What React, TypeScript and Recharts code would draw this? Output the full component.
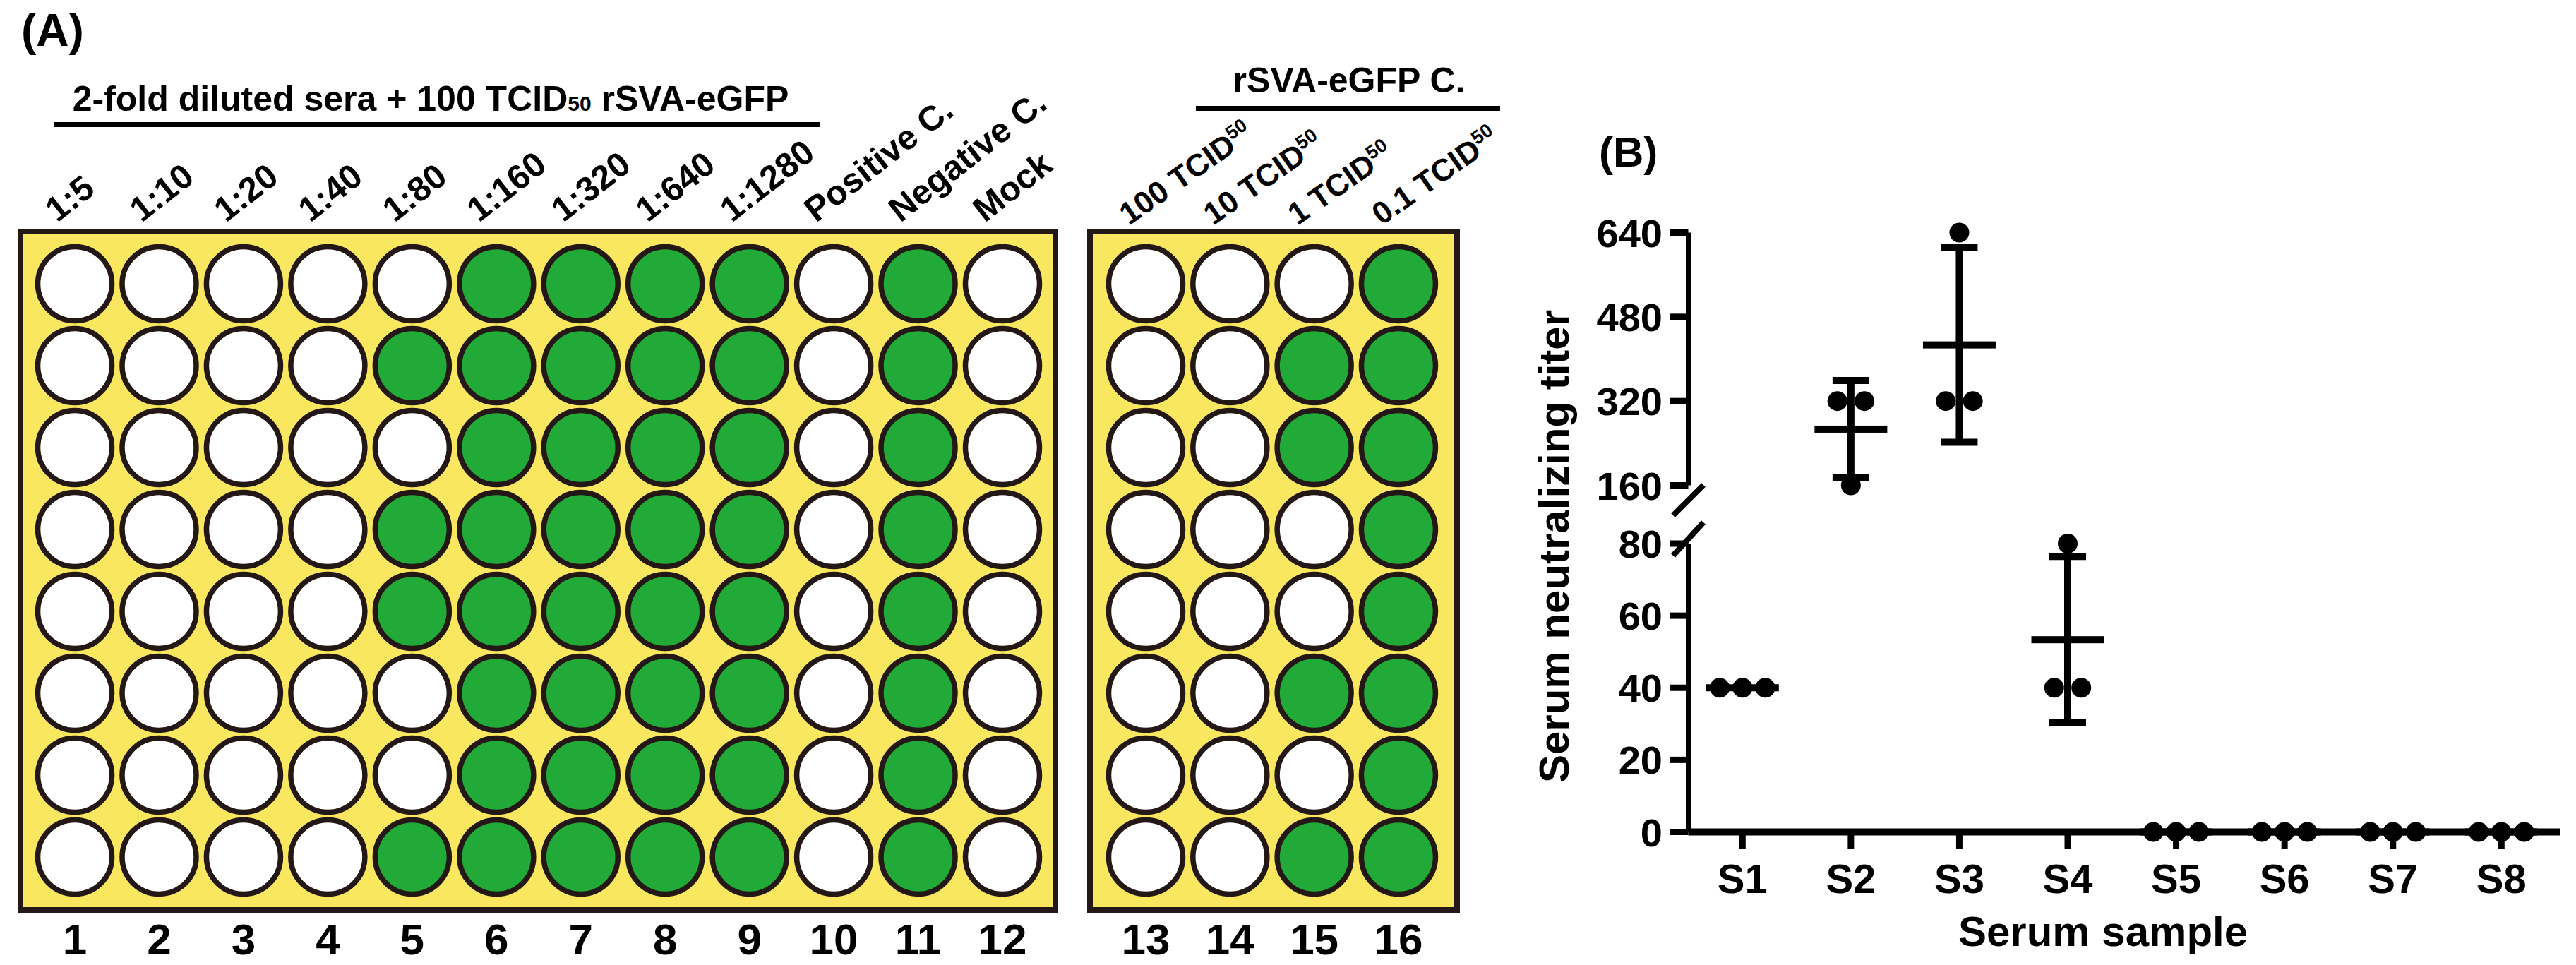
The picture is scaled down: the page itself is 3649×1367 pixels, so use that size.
import React from 'react';
import { ScatterChart, Scatter, XAxis, YAxis, ReferenceArea, ErrorBar, Customized } from 'recharts';

const FONT = '"Liberation Sans", Arial, Helvetica, sans-serif';
const INK = '#231815';
const YELLOW = '#F8E75F';
const GREEN = '#21AA38';
const BLACK = '#000000';

// ---------- Panel A data ----------
const plateRows = [1, 2, 3, 4, 5, 6, 7, 8];
const leftColumns = [1, 2, 3, 4, 5, 6, 7, 8, 9, 10, 11, 12];
const rightColumns = [13, 14, 15, 16];
const dilutionLabels = ['1:5', '1:10', '1:20', '1:40', '1:80', '1:160', '1:320', '1:640', '1:1280', 'Positive C.', 'Negative C.', 'Mock'];
const controlDoses = ['100', '10', '1', '0.1'];
// 1 = green (eGFP fluorescence), 0 = no fluorescence
const leftPlate = [
  [0, 0, 0, 0, 0, 1, 1, 1, 1, 0, 1, 0],
  [0, 0, 0, 0, 1, 1, 1, 1, 1, 0, 1, 0],
  [0, 0, 0, 0, 0, 1, 1, 1, 1, 0, 1, 0],
  [0, 0, 0, 0, 1, 1, 1, 1, 1, 0, 1, 0],
  [0, 0, 0, 0, 1, 1, 1, 1, 1, 0, 1, 0],
  [0, 0, 0, 0, 0, 1, 1, 1, 1, 0, 1, 0],
  [0, 0, 0, 0, 0, 1, 1, 1, 1, 0, 1, 0],
  [0, 0, 0, 0, 1, 1, 1, 1, 1, 0, 1, 0],
];
const rightPlate = [
  [0, 0, 0, 1],
  [0, 0, 1, 1],
  [0, 0, 1, 1],
  [0, 0, 0, 1],
  [0, 0, 0, 1],
  [0, 0, 1, 1],
  [0, 0, 0, 1],
  [0, 0, 1, 1],
];

// ---------- Panel B data ----------
const sampleLabels = ['S1', 'S2', 'S3', 'S4', 'S5', 'S6', 'S7', 'S8'];
const sampleIndex = [1, 2, 3, 4, 5, 6, 7, 8];
const titerS1 = [40, 40, 40];
const titerS2 = [160, 320, 320];
const titerS3 = [320, 320, 640];
const titerS4 = [40, 40, 80];
const titerS5 = [0, 0, 0];
const titerS6 = [0, 0, 0];
const titerS7 = [0, 0, 0];
const titerS8 = [0, 0, 0];
const titers = [titerS1, titerS2, titerS3, titerS4, titerS5, titerS6, titerS7, titerS8];
const upperTicks = [160, 320, 480, 640];
const lowerTicks = [0, 20, 40, 60, 80];

// ---------- derived ----------
const buildWells = (plate: number[][], cols: number[]) =>
  plate.flatMap((row, r) => row.map((v, c) => ({ col: cols[c], row: plateRows[r], positive: v === 1 })));
const leftWells = buildWells(leftPlate, leftColumns);
const rightWells = buildWells(rightPlate, rightColumns);

const samplePoints = titers.flatMap((vals, i) => {
  const counts = new Map<number, number>();
  vals.forEach((v) => counts.set(v, (counts.get(v) || 0) + 1));
  const seen = new Map<number, number>();
  return vals.map((v) => {
    const n = counts.get(v) as number;
    const k = seen.get(v) || 0;
    seen.set(v, k + 1);
    const step = n === 2 ? 0.25 : 0.21;
    return { x: sampleIndex[i] + (k - (n - 1) / 2) * step, y: v };
  });
});
const sampleStats = titers.map((vals, i) => {
  const m = vals.reduce((a, b) => a + b, 0) / vals.length;
  const sd = Math.sqrt(vals.reduce((a, b) => a + (b - m) * (b - m), 0) / (vals.length - 1));
  return { x: sampleIndex[i], y: m, sd };
});

const LEFT_X: [number, number] = [0.355, 12.628];
const RIGHT_X: [number, number] = [12.338, 16.696];
const ROW_Y: [number, number] = [0.362, 8.647];
const B_X: [number, number] = [0.5, 8.545];

const txt = { fontFamily: FONT, fontWeight: 700, fill: BLACK } as const;

const Well = (props: any) => {
  const { cx, cy, payload } = props;
  return <circle cx={cx} cy={cy} r={52.5} fill={payload.positive ? GREEN : '#FFFFFF'} stroke={INK} strokeWidth={7.5} />;
};
const Nothing = () => <g />;

const NumberTick = (props: any) => {
  const { x, y, payload } = props;
  return (
    <text x={x} y={y + 63} textAnchor="middle" fontSize={62} {...txt}>
      {payload.value}
    </text>
  );
};
const DilutionTick = (props: any) => {
  const { x, y, payload } = props;
  const label = dilutionLabels[leftColumns.indexOf(payload.value)];
  return (
    <text transform={`translate(${x - 25},${y - 12}) rotate(-38)`} fontSize={49} {...txt}>
      {label}
    </text>
  );
};
const DoseTick = (props: any) => {
  const { x, y, payload } = props;
  const dose = controlDoses[rightColumns.indexOf(payload.value)];
  return (
    <text transform={`translate(${x - 24},${y - 8}) rotate(-35)`} fontSize={44} {...txt}>
      <tspan>{dose} TCID</tspan>
      <tspan dy={-16} fontSize={27}>50</tspan>
    </text>
  );
};
const TiterTick = (props: any) => {
  const { x, y, payload } = props;
  return (
    <text x={x} y={y} dy={20} textAnchor="end" fontSize={56} {...txt}>
      {payload.value}
    </text>
  );
};
const SampleTick = (props: any) => {
  const { x, y, payload } = props;
  return (
    <text x={x} y={y + 62} textAnchor="middle" fontSize={58} {...txt}>
      {sampleLabels[sampleIndex.indexOf(payload.value)]}
    </text>
  );
};
const Dot = (props: any) => {
  const { cx, cy } = props;
  return <circle cx={cx} cy={cy} r={14} fill={BLACK} />;
};
const MeanLine = (props: any) => {
  const { cx, cy } = props;
  return <rect x={cx - 51.5} y={cy - 5} width={103} height={10} fill={BLACK} />;
};

const LeftAnnotations = () => (
  <g>
    <text x={30} y={65} fontSize={64} {...txt}>(A)</text>
    <text x={610} y={157} textAnchor="middle" fontSize={50} {...txt}>
      <tspan>2-fold diluted sera + 100 TCID</tspan>
      <tspan fontSize={30}>50</tspan>
      <tspan> rSVA-eGFP</tspan>
    </text>
    <line x1={77} x2={1161} y1={176.5} y2={176.5} stroke={BLACK} strokeWidth={7} />
  </g>
);
const RightAnnotations = () => (
  <g>
    <text x={411} y={131} textAnchor="middle" fontSize={50} {...txt}>rSVA-eGFP C.</text>
    <line x1={194} x2={625} y1={153.5} y2={153.5} stroke={BLACK} strokeWidth={7} />
  </g>
);
const BAnnotations = () => (
  <g>
    <text x={125} y={236} fontSize={60} {...txt}>(B)</text>
    <text transform="translate(82,774) rotate(-90)" textAnchor="middle" fontSize={60} {...txt}>
      Serum neutralizing titer
    </text>
    <text x={839} y={1340} textAnchor="middle" fontSize={60} {...txt}>Serum sample</text>
    <line x1={273} y1={687} x2={230} y2={730} stroke={BLACK} strokeWidth={8} />
    <line x1={273} y1={740} x2={230} y2={787} stroke={BLACK} strokeWidth={8} />
  </g>
);

const Plate = ({ wells, xDomain, cols, tick, annotations, width, margin }: any) => (
  <ScatterChart width={width} height={1367} margin={margin}>
    <XAxis xAxisId="bottom" orientation="bottom" type="number" dataKey="col" domain={xDomain} ticks={cols}
      height={70} tickSize={0} tickMargin={0} tickLine={false} axisLine={false} tick={<NumberTick />} interval={0} />
    <XAxis xAxisId="top" orientation="top" type="number" dataKey="col" domain={xDomain} ticks={cols}
      height={300} tickSize={0} tickMargin={0} tickLine={false} axisLine={false} tick={tick} interval={0} />
    <YAxis type="number" dataKey="row" domain={ROW_Y} reversed hide width={0} />
    <ReferenceArea xAxisId="bottom" x1={xDomain[0]} x2={xDomain[1]} y1={ROW_Y[0]} y2={ROW_Y[1]}
      fill={YELLOW} fillOpacity={1} stroke={INK} strokeWidth={8} />
    <Scatter xAxisId="bottom" data={wells} shape={<Well />} isAnimationActive={false} />
    <Scatter xAxisId="top" data={wells.filter((w: any) => w.row === 1)} shape={<Nothing />} isAnimationActive={false} />
    <Customized component={annotations} />
  </ScatterChart>
);

export default function App() {
  const upperPts = samplePoints.filter((p) => p.y >= 160);
  const lowerPts = samplePoints.filter((p) => p.y <= 80);
  const upperStats = sampleStats.filter((s) => s.y >= 160);
  const lowerStats = sampleStats.filter((s) => s.y <= 80);
  return (
    <div style={{ position: 'absolute', left: 0, top: 0, width: 3649, height: 1367, background: '#FFFFFF', fontFamily: FONT, overflow: 'hidden' }}>
      <div style={{ position: 'absolute', left: 0, top: 0 }}>
        <Plate wells={leftWells} xDomain={LEFT_X} cols={leftColumns} tick={<DilutionTick />} annotations={LeftAnnotations}
          width={1530} margin={{ top: 28, right: 35, bottom: 8, left: 29 }} />
      </div>
      <div style={{ position: 'absolute', left: 1500, top: 0 }}>
        <Plate wells={rightWells} xDomain={RIGHT_X} cols={rightColumns} tick={<DoseTick />} annotations={RightAnnotations}
          width={660} margin={{ top: 28, right: 96, bottom: 8, left: 44 }} />
      </div>
      <div style={{ position: 'absolute', left: 2140, top: 0 }}>
        <ScatterChart width={1509} height={1367} margin={{ top: 329.5, right: 22, bottom: 679.5, left: 51.5 }}>
          <XAxis type="number" dataKey="x" domain={B_X} hide />
          <YAxis type="number" dataKey="y" domain={[160, 640]} ticks={upperTicks} width={200} interval={0}
            tickSize={25.5} tickMargin={11} tick={<TiterTick />}
            axisLine={{ stroke: BLACK, strokeWidth: 7 }} tickLine={{ stroke: BLACK, strokeWidth: 9 }} />
          <Scatter data={upperStats} shape={<MeanLine />} isAnimationActive={false}>
            <ErrorBar dataKey="sd" direction="y" width={26} strokeWidth={10} stroke={BLACK} isAnimationActive={false} />
          </Scatter>
          <Scatter data={upperPts} shape={<Dot />} isAnimationActive={false} />
        </ScatterChart>
      </div>
      <div style={{ position: 'absolute', left: 2140, top: 0 }}>
        <ScatterChart width={1509} height={1367} margin={{ top: 770, right: 22, bottom: 0, left: 51.5 }}>
          <XAxis type="number" dataKey="x" domain={B_X} ticks={sampleIndex} interval={0} height={188.5}
            tickSize={24.5} tickMargin={0} tick={<SampleTick />}
            axisLine={{ stroke: BLACK, strokeWidth: 10 }} tickLine={{ stroke: BLACK, strokeWidth: 9 }} />
          <YAxis type="number" dataKey="y" domain={[0, 80]} ticks={lowerTicks} width={200} interval={0}
            tickSize={25.5} tickMargin={11} tick={<TiterTick />}
            axisLine={{ stroke: BLACK, strokeWidth: 7 }} tickLine={{ stroke: BLACK, strokeWidth: 9 }} />
          <Scatter data={lowerStats} shape={<MeanLine />} isAnimationActive={false}>
            <ErrorBar dataKey="sd" direction="y" width={26} strokeWidth={10} stroke={BLACK} isAnimationActive={false} />
          </Scatter>
          <Scatter data={lowerPts} shape={<Dot />} isAnimationActive={false} />
          <Customized component={BAnnotations} />
        </ScatterChart>
      </div>
    </div>
  );
}
